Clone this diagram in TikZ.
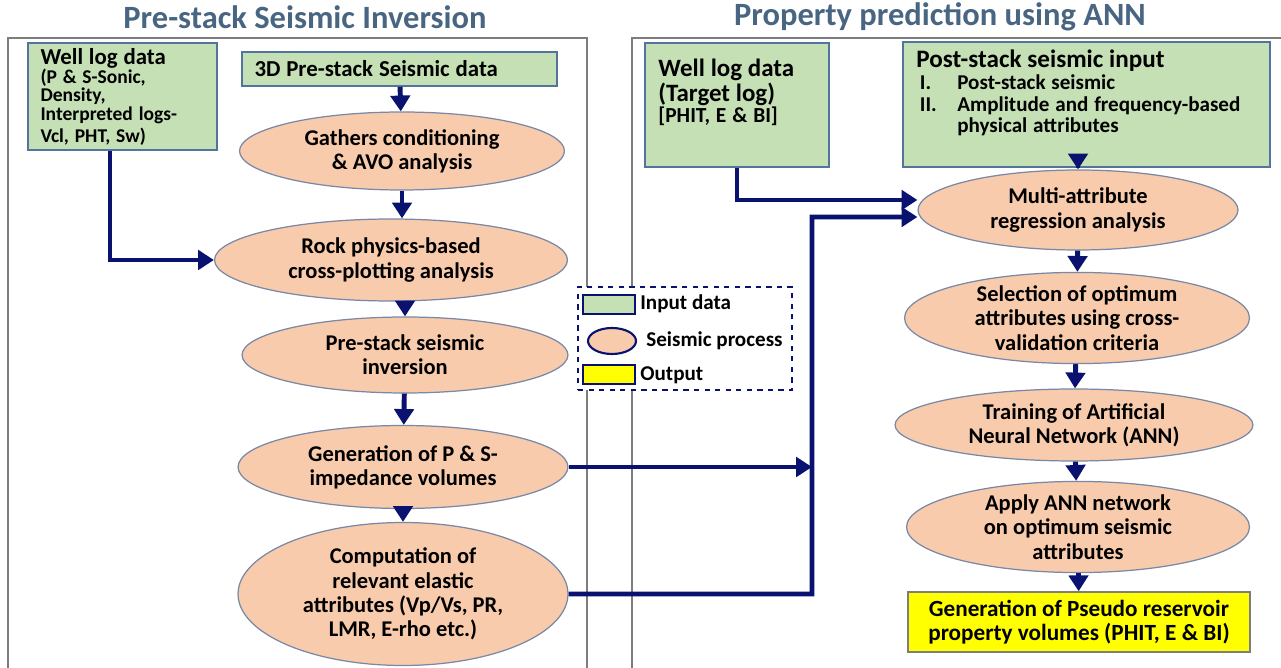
\documentclass[tikz,border=0pt]{standalone}
\usepackage{fontspec}
\setmainfont{Carlito}
\usetikzlibrary{arrows.meta,positioning,shapes.geometric}

\definecolor{inputgreen}{RGB}{197,224,180}
\definecolor{greenline}{RGB}{84,116,160}
\definecolor{procfill}{RGB}{248,203,173}
\definecolor{procline}{RGB}{120,136,165}
\definecolor{outyellow}{RGB}{255,255,0}
\definecolor{arrowblue}{RGB}{10,18,112}
\definecolor{framegray}{RGB}{125,125,125}
\definecolor{titleblue}{RGB}{72,102,130}

\begin{document}
\begin{tikzpicture}[
    x=0.02cm, y=-0.02cm,
    inbox/.style={draw=greenline, fill=inputgreen, line width=0.9pt, align=left, inner ysep=0pt, inner xsep=0.25cm, font=\bfseries},
    boxtext/.style={anchor=north west, align=left, inner sep=0pt, font=\bfseries},
    proc/.style={ellipse, draw=procline, fill=procfill, line width=0.7pt, align=center, inner sep=0pt, font=\bfseries\fontsize{12.8}{13.8}\selectfont},
    outbox/.style={draw=framegray, fill=outyellow, line width=0.9pt, align=center, font=\bfseries\fontsize{13.2}{13.8}\selectfont},
    link/.style={-{Triangle[length=9pt,width=11pt]}, line width=2.8pt, draw=arrowblue},
    frame/.style={draw=framegray, line width=1.2pt},
    heading/.style={font=\bfseries\fontsize{18.5}{21}\selectfont, text=titleblue},
    legtext/.style={anchor=west, inner sep=0pt, font=\bfseries\fontsize{12}{14}\selectfont}
]
\useasboundingbox (0,0) rectangle (1281,668);

% panel frames and titles
\draw[frame] (8,668) -- (8,38) -- (587,38) -- (587,668);
\draw[frame] (632,668) -- (632,38) -- (1281,38);
\node[heading] (ttlleft) at (305,17) {Pre-stack Seismic Inversion};
\node[heading] (ttlright) at (940,17) {Property prediction using ANN};

% pre-stack inversion column
\node[inbox, text width=3.28cm, minimum height=2.14cm] (wellA) at (122.5,96.5)
  {\fontsize{13}{15}\selectfont Well log data\\
   \fontsize{11.1}{10.8}\selectfont (P \& S-Sonic,\\ Density,\\ Interpreted logs-\\ Vcl, PHT, Sw)};
\node[inbox, text width=5.8cm, minimum height=0.68cm] (seis3d) at (399.5,69)
  {\fontsize{13}{14}\selectfont 3D Pre-stack Seismic data};
\node[proc, minimum width=6.5cm, minimum height=1.56cm] (gath) at (402,151)
  {Gathers conditioning\\ \& AVO analysis};
\node[proc, minimum width=7.06cm, minimum height=1.64cm] (rock) at (391,260)
  {Rock physics-based\\ cross-plotting analysis};
\node[proc, minimum width=6.52cm, minimum height=1.52cm] (inv) at (405,355)
  {Pre-stack seismic\\ inversion};
\node[proc, minimum width=6.6cm, minimum height=1.66cm] (gen) at (403,467)
  {Generation of P \& S-\\ impedance volumes};
\node[proc, minimum width=6.6cm, minimum height=2.86cm] (comp) at (403,594)
  {Computation of\\ relevant elastic\\ attributes (Vp/Vs, PR,\\ LMR, E-rho etc.)};

% ANN column
\node[inbox, minimum width=3.68cm, minimum height=2.48cm] (wellB) at (737,105) {};
\node[boxtext, text width=3.3cm] (wellBtxt) at (658,59)
  {\fontsize{14.2}{13.8}\selectfont Well log data\\ (Target log)\\
   \fontsize{12.2}{13.8}\selectfont [PHIT, E \& BI]};
\node[inbox, minimum width=7.34cm, minimum height=2.5cm] (post) at (1086.5,104.5) {};
\node[boxtext, text width=7cm] (posttxt) at (916,50)
  {\fontsize{14.3}{12.5}\selectfont Post-stack seismic input\\
   \fontsize{12}{12.5}\selectfont \makebox[0.82cm][l]{\,I.}Post-stack seismic\\
   \makebox[0.82cm][l]{\,II.}Amplitude and frequency-based\\
   \hspace*{0.82cm}physical attributes};
\node[proc, minimum width=6.4cm, minimum height=1.6cm] (multi) at (1078,210)
  {Multi-attribute\\ regression analysis};
\node[proc, minimum width=6.9cm, minimum height=1.7cm] (sel) at (1077,318)
  {Selection of optimum\\ attributes using cross-\\ validation criteria};
\node[proc, minimum width=7.16cm, minimum height=1.44cm] (train) at (1074,425)
  {Training of Artificial\\ Neural Network (ANN)};
\node[proc, minimum width=6.86cm, minimum height=1.64cm] (apply) at (1078,527)
  {Apply ANN network\\ on optimum seismic\\ attributes};
\node[outbox, minimum width=6.84cm, minimum height=1.2cm] (out) at (1079,622)
  {Generation of Pseudo reservoir\\ property volumes (PHIT, E \& BI)};

% legend
\node[draw=arrowblue, fill=white, dashed, line width=1pt, minimum width=4.28cm, minimum height=2.06cm] (legend) at (685,338.5) {};
\node[draw=arrowblue, fill=inputgreen, line width=1.2pt, minimum width=1.04cm, minimum height=0.38cm, inner sep=0pt] (leginput) at (609,304.5) {};
\node[ellipse, draw=arrowblue, fill=procfill, line width=1.2pt, minimum width=0.96cm, minimum height=0.52cm, inner sep=0pt] (legproc) at (612,341) {};
\node[draw=arrowblue, fill=outyellow, line width=1.2pt, minimum width=1.04cm, minimum height=0.38cm, inner sep=0pt] (legout) at (609,374.5) {};
\node[legtext] (leginputtxt) at (640,304) {Input data};
\node[legtext] (legproctxt) at (646,341) {Seismic process};
\node[legtext] (legouttxt) at (640,375) {Output};

% connectors
\coordinate (bus) at (812,217);
\draw[link] (seis3d) -- (gath);
\draw[link] (gath.south) -- (gath.south |- rock.north);
\draw[link] (inv.north |- rock.south) -- (inv.north);
\draw[link] (inv) -- (gen);
\draw[link] (gen) -- (comp);
\draw[link] ([xshift=-0.25cm]wellA.south) |- (rock.west);
\draw[link] (wellB.south) |- ([yshift=0.2cm]multi.west);
\draw[link] (comp.east) -| (bus) -- ([yshift=-0.14cm]multi.west);
\draw[link] (gen.east) -- (gen.east -| bus);
\draw[link] (multi.north |- post.south) -- (multi.north);
\draw[link] (multi) -- (sel);
\draw[link] (sel) -- (train);
\draw[link] (train) -- (apply);
\draw[link] (apply) -- (out);
\end{tikzpicture}
\end{document}
